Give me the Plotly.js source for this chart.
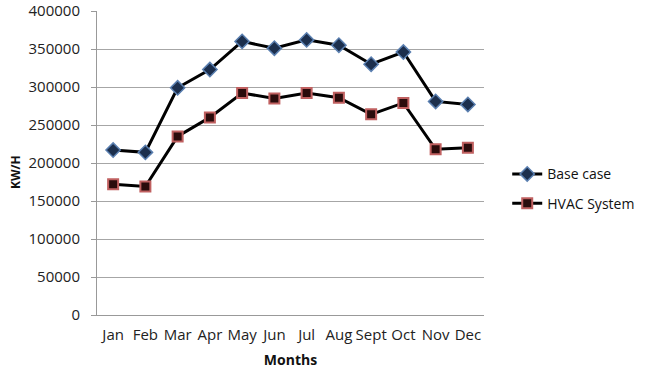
<!DOCTYPE html>
<html><head><meta charset="utf-8">
<script src="https://cdn.plot.ly/plotly-3.0.1.min.js"></script>
<style>html,body{margin:0;padding:0;background:#fff}#c{width:645px;height:370px}</style>
</head><body><div id="c"></div>
<script>
const months = ["Jan","Feb","Mar","Apr","May","Jun","Jul","Aug","Sept","Oct","Nov","Dec"];
const baseCase = [217000,214000,299000,323000,360000,351000,362000,355000,330000,346000,281000,277000];
const hvacSystem = [172000,169000,235000,260000,292000,285000,292000,286000,264000,279000,218000,220000];
const yTicks = [0,50000,100000,150000,200000,250000,300000,350000,400000];

const font = "Open Sans, Noto Sans, sans-serif";
const traces = [
  {x: months, y: baseCase, name: "Base case", type: "scatter", mode: "lines+markers",
   legendgroup: "a",
   line: {color: "#000", width: 3},
   marker: {symbol: "diamond", size: 11, color: "#1c2f4d", line: {color: "#5a7fb0", width: 1.5}}},
  {x: months, y: hvacSystem, name: "HVAC System", type: "scatter", mode: "lines+markers",
   legendgroup: "b",
   line: {color: "#000", width: 3},
   marker: {symbol: "square", size: 10, color: "#2a0c0c", line: {color: "#c06060", width: 2}}}
];
const layout = {
  width: 645, height: 370,
  margin: {l: 97, r: 161, t: 11, b: 55, autoexpand: false},
  paper_bgcolor: "#fff", plot_bgcolor: "#fff",
  font: {family: font, size: 14, color: "#222"},
  showlegend: true,
  legend: {x: 1.06, xanchor: "left", y: 0.415, yanchor: "middle",
           font: {size: 14, color: "#111"}, traceorder: "grouped", tracegroupgap: 8,
           bgcolor: "rgba(0,0,0,0)"},
  xaxis: {type: "category", showgrid: false, showline: true, linecolor: "#999", linewidth: 1,
          ticks: "", tickfont: {size: 15}, range: [-0.5, 11.5], ticklabelstandoff: 6, automargin: false,
          title: {text: "<b>Months</b>", font: {size: 14, color: "#111"}, standoff: 12}},
  yaxis: {range: [0, 400000], tickvals: yTicks, ticktext: yTicks.map(String), automargin: false,
          showgrid: true, gridcolor: "#a6a6a6", gridwidth: 1, zeroline: false,
          showline: true, linecolor: "#999", linewidth: 1, ticks: "outside", ticklen: 5, tickcolor: "#999",
          tickfont: {size: 15}, ticklabelstandoff: 8, ticklabeloverflow: "allow"},
  annotations: [{text: "<b>KW/H</b>", xref: "paper", yref: "paper", x: -0.212, y: 0.47,
                 xanchor: "center", yanchor: "middle",
                 textangle: -90, showarrow: false, font: {size: 12, color: "#111"}}]
};
Plotly.newPlot("c", traces, layout, {displayModeBar: false, staticPlot: true});
</script></body></html>
